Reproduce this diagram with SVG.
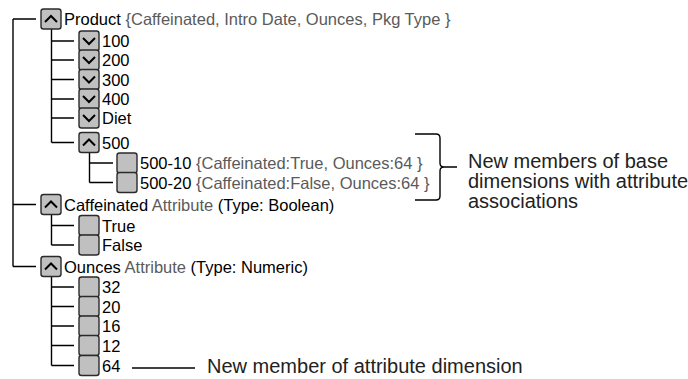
<svg xmlns="http://www.w3.org/2000/svg" width="688" height="379" viewBox="0 0 688 379">
<style>
.bx{fill:#c0c0c0;stroke:#2a2a2a;stroke-width:1.4}
.ch{fill:none;stroke:#000;stroke-width:2}
.ln{fill:none;stroke:#000;stroke-width:1.4}
.t{font-family:"Liberation Sans",Arial,sans-serif;font-size:16.5px;fill:#000}
.g{fill:#5a5a5a}
.n{font-family:"Liberation Sans",Arial,sans-serif;font-size:20px;fill:#222}
</style>
<defs>
<path id="up" class="ch" d="M4,13 L10,7 L16,13"/>
<path id="dn" class="ch" d="M4,7 L10,13 L16,7"/>
</defs>
<rect width="688" height="379" fill="#fff"/>
<g id="connectors" class="ln">
<path d="M13,19 V266.5"/>
<path d="M13,19 H36 M13,204.5 H36 M13,266.5 H36"/>
<path d="M51.5,29 V142.5 M51.5,41 H74 M51.5,60 H74 M51.5,79.5 H74 M51.5,99 H74 M51.5,118 H74 M51.5,142.5 H74"/>
<path d="M89.5,152.5 V182.5 M89.5,163 H113 M89.5,182.5 H113"/>
<path d="M51.5,214.5 V245 M51.5,225.5 H74 M51.5,245 H74"/>
<path d="M51.5,276.5 V365.5 M51.5,287 H74 M51.5,306.5 H74 M51.5,326 H74 M51.5,345.5 H74 M51.5,365.5 H74"/>
<path d="M415,134 H436 Q440,134 440,138 V163 Q440,167 444,167 Q440,167 440,171 V196 Q440,200 436,200 H415 M444,167 H457"/>
<path d="M132,368 H195"/>
</g>
<g id="n-product"><rect class="bx" x="41" y="9" width="20" height="20" rx="2.5"/><use href="#up" x="41" y="9"/><text class="t" x="64" y="25">Product <tspan class="g">{Caffeinated, Intro Date, Ounces, Pkg Type }</tspan></text></g>
<g id="n-100"><rect class="bx" x="79" y="31" width="20" height="20" rx="2.5"/><use href="#dn" x="79" y="31"/><text class="t" x="102" y="47">100</text></g>
<g id="n-200"><rect class="bx" x="79" y="50" width="20" height="20" rx="2.5"/><use href="#dn" x="79" y="50"/><text class="t" x="102" y="66">200</text></g>
<g id="n-300"><rect class="bx" x="79" y="69.5" width="20" height="20" rx="2.5"/><use href="#dn" x="79" y="69.5"/><text class="t" x="102" y="85.5">300</text></g>
<g id="n-400"><rect class="bx" x="79" y="89" width="20" height="20" rx="2.5"/><use href="#dn" x="79" y="89"/><text class="t" x="102" y="105">400</text></g>
<g id="n-diet"><rect class="bx" x="79" y="108" width="20" height="20" rx="2.5"/><use href="#dn" x="79" y="108"/><text class="t" x="102" y="124">Diet</text></g>
<g id="n-500"><rect class="bx" x="79" y="132.5" width="20" height="20" rx="2.5"/><use href="#up" x="79" y="132.5"/><text class="t" x="102" y="148.5">500</text></g>
<g id="n-500-10"><rect class="bx" x="117" y="153" width="20" height="20" rx="2.5"/><text class="t" x="140" y="169">500-10 <tspan class="g">{Caffeinated:True, Ounces:64 }</tspan></text></g>
<g id="n-500-20"><rect class="bx" x="117" y="172.5" width="20" height="20" rx="2.5"/><text class="t" x="140" y="188.5">500-20 <tspan class="g">{Caffeinated:False, Ounces:64 }</tspan></text></g>
<g id="n-caffeinated"><rect class="bx" x="41" y="194.5" width="20" height="20" rx="2.5"/><use href="#up" x="41" y="194.5"/><text class="t" x="64" y="210.5">Caffeinated <tspan class="g">Attribute</tspan> (Type: Boolean)</text></g>
<g id="n-true"><rect class="bx" x="79" y="215.5" width="20" height="20" rx="2.5"/><text class="t" x="102" y="231.5">True</text></g>
<g id="n-false"><rect class="bx" x="79" y="235" width="20" height="20" rx="2.5"/><text class="t" x="102" y="251">False</text></g>
<g id="n-ounces"><rect class="bx" x="41" y="256.5" width="20" height="20" rx="2.5"/><use href="#up" x="41" y="256.5"/><text class="t" x="64" y="272.5">Ounces <tspan class="g">Attribute</tspan> (Type: Numeric)</text></g>
<g id="n-32"><rect class="bx" x="79" y="277" width="20" height="20" rx="2.5"/><text class="t" x="102" y="293">32</text></g>
<g id="n-20"><rect class="bx" x="79" y="296.5" width="20" height="20" rx="2.5"/><text class="t" x="102" y="312.5">20</text></g>
<g id="n-16"><rect class="bx" x="79" y="316" width="20" height="20" rx="2.5"/><text class="t" x="102" y="332">16</text></g>
<g id="n-12"><rect class="bx" x="79" y="335.5" width="20" height="20" rx="2.5"/><text class="t" x="102" y="351.5">12</text></g>
<g id="n-64"><rect class="bx" x="79" y="355.5" width="20" height="20" rx="2.5"/><text class="t" x="102" y="371.5">64</text></g>
<g id="note-base"><text class="n" x="468" y="168">New members of base</text><text class="n" x="468" y="188">dimensions with attribute</text><text class="n" x="468" y="208">associations</text></g>
<g id="note-attr"><text class="n" x="207" y="373">New member of attribute dimension</text></g>
</svg>
